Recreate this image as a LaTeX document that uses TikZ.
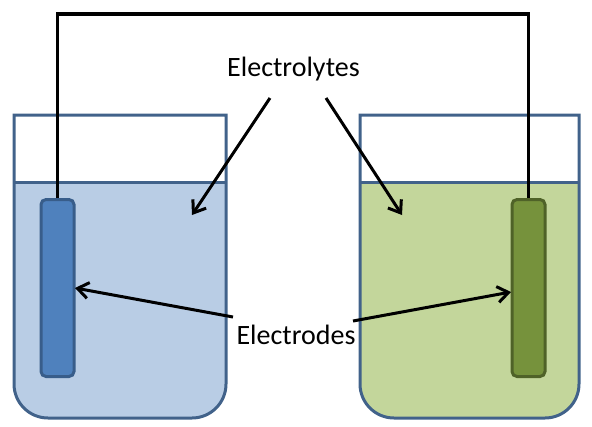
\documentclass[tikz,border=0pt]{standalone}
\usepackage{fontspec}
\setmainfont{Carlito}
\usetikzlibrary{arrows.meta,positioning}
\definecolor{rim}{HTML}{41628A}
\definecolor{liqblue}{HTML}{B9CDE5}
\definecolor{liqgreen}{HTML}{C3D69B}
\definecolor{rodblue}{HTML}{4F81BD}
\definecolor{rodgreen}{HTML}{76923C}
\definecolor{edgeblue}{HTML}{385D8A}
\definecolor{edgegreen}{HTML}{4F6228}

\begin{document}
\begin{tikzpicture}[x=1pt,y=-1pt,font=\fontsize{28}{32}\selectfont,
 glass/.style={draw=rim,line width=3pt},
 rod/.style={rounded corners=5pt,line width=3pt,minimum width=33pt,minimum height=177pt,inner sep=0pt},
 wire/.style={line width=3.5pt},
 arr/.style={-{Straight Barb[length=11pt,width=16pt,line width=3pt]},line width=3pt}]
\useasboundingbox (0,0) rectangle (592,426);
% left beaker
\fill[liqblue] (14,182) -- (14,384) arc[start angle=180,end angle=270,radius=34pt] -- (192,418) arc[start angle=270,end angle=360,radius=34pt] -- (226,182) -- cycle;
\draw[rim,line width=3pt] (14,182) -- (226,182);
\draw[glass] (14,115) -- (14,384) arc[start angle=180,end angle=270,radius=34pt] -- (192,418) arc[start angle=270,end angle=360,radius=34pt] -- (226,115) -- cycle;
% right beaker
\fill[liqgreen] (360,182) -- (360,384) arc[start angle=180,end angle=270,radius=34pt] -- (545,418) arc[start angle=270,end angle=360,radius=34pt] -- (579,182) -- cycle;
\draw[rim,line width=3pt] (360,182) -- (579,182);
\draw[glass] (360,115) -- (360,384) arc[start angle=180,end angle=270,radius=34pt] -- (545,418) arc[start angle=270,end angle=360,radius=34pt] -- (579,115) -- cycle;
% rods
\node[rod,draw=edgeblue,fill=rodblue] (rodL) at (57.5,288) {};
\node[rod,draw=edgegreen,fill=rodgreen] (rodR) at (528.5,288) {};
\coordinate (top) at (0,14);
\draw[wire] (rodL.north) -- (rodL.north |- top) -- (rodR.north |- top) -- (rodR.north);
% labels
\node (lyte) at (293.5,69) {Electrolytes};
\node (trode) at (296,335) {Electrodes};
\coordinate (lyteA) at (270,98);
\coordinate (lyteB) at (326,98);
\coordinate (liqL) at (192,215);
\coordinate (liqR) at (402,215);
\coordinate (trodeA) at (233,317);
\coordinate (trodeB) at (353,321);
\coordinate (tipL) at (75,288);
\coordinate (tipR) at (511,292);
\draw[arr] (lyteA) -- (liqL);
\draw[arr] (lyteB) -- (liqR);
\draw[arr] (trodeA) -- (tipL);
\draw[arr] (trodeB) -- (tipR);
\end{tikzpicture}
\end{document}
